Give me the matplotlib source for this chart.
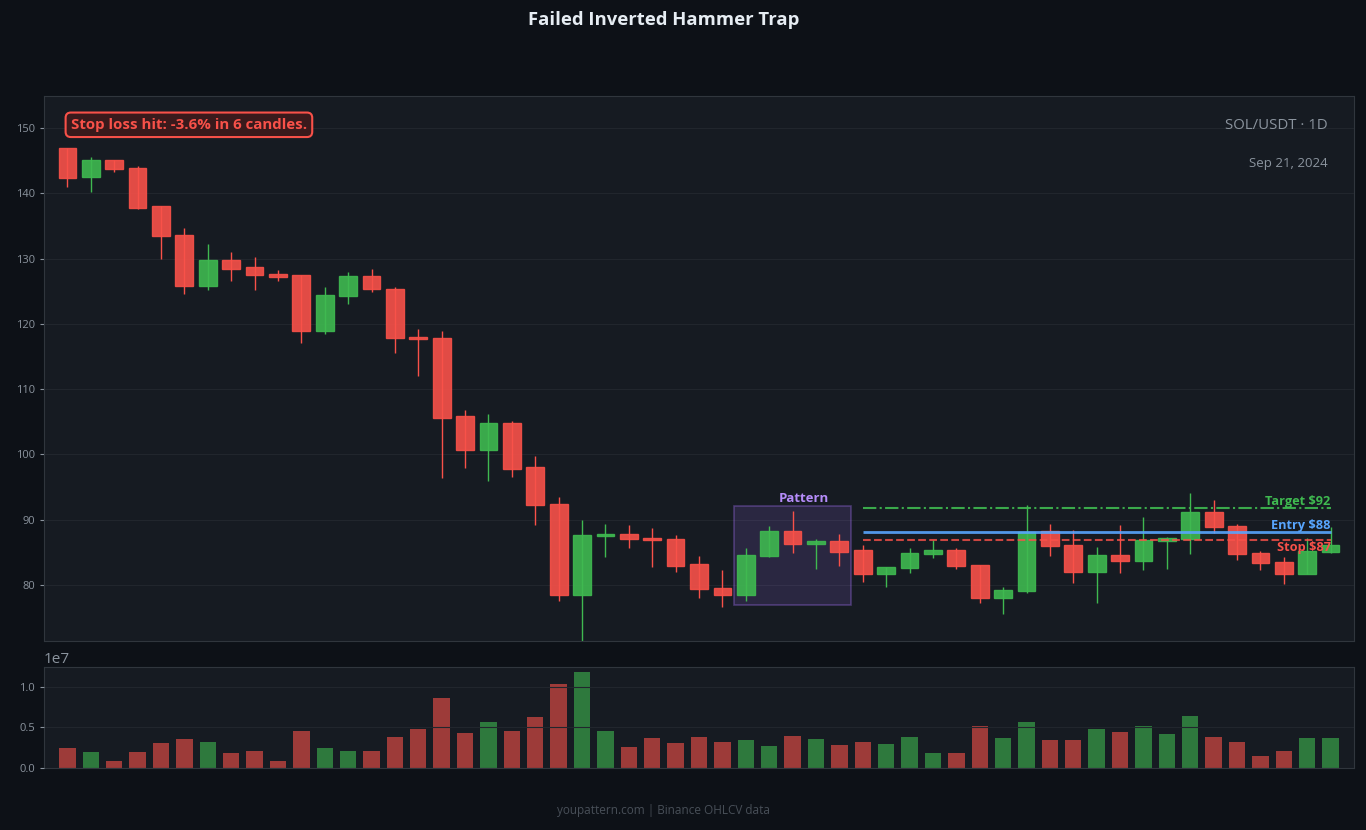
import matplotlib
matplotlib.use('Agg')
import matplotlib.pyplot as plt
from matplotlib.patches import Rectangle
import numpy as np

plt.rcParams['font.family'] = ['Open Sans', 'DejaVu Sans']

# SOL/USDT daily candles
opens = [146.9, 142.45, 145.05, 143.8, 138.0, 133.6, 125.75, 129.7, 128.7, 127.6,
         127.4, 118.9, 124.2, 127.3, 125.4, 117.9, 117.8, 105.8, 100.7, 104.75,
         98.05, 92.35, 78.4, 87.45, 87.8, 87.15, 87.0, 83.2, 79.5, 78.4,
         84.35, 88.25, 86.2, 86.7, 85.3, 81.65, 82.6, 84.7, 85.3, 83.0,
         77.95, 79.05, 88.2, 86.1, 81.95, 84.55, 83.65, 86.75, 87.0, 91.15,
         89.0, 84.9, 83.5, 81.65, 85.0]
highs = [147.0, 145.6, 145.1, 144.1, 138.1, 134.7, 132.2, 131.0, 130.2, 128.25,
         127.5, 125.6, 127.9, 128.4, 125.6, 119.2, 118.9, 106.8, 106.2, 105.1,
         99.8, 93.4, 90.0, 89.3, 89.2, 88.75, 87.7, 84.45, 82.3, 85.6,
         89.0, 91.35, 87.05, 87.8, 86.15, 82.75, 85.7, 86.9, 85.7, 83.1,
         79.7, 92.25, 89.4, 88.45, 85.8, 89.1, 90.45, 87.4, 94.1, 93.0,
         89.4, 85.2, 84.3, 87.2, 88.9]
lows = [140.9, 140.2, 143.3, 137.6, 129.9, 124.6, 125.2, 126.6, 125.2, 126.6,
        117.1, 118.5, 123.1, 124.8, 115.45, 112.0, 96.4, 97.9, 95.95, 96.5,
        89.2, 77.6, 71.0, 84.2, 85.7, 82.8, 81.9, 78.0, 76.65, 77.55,
        84.2, 84.9, 82.45, 82.95, 80.5, 79.6, 81.75, 84.05, 82.5, 77.15,
        75.55, 78.7, 84.35, 80.35, 77.15, 81.75, 82.35, 82.5, 84.8, 87.9,
        83.75, 82.35, 80.2, 81.6, 84.9]
closes = [142.4, 145.05, 143.7, 137.8, 133.4, 125.75, 129.7, 128.45, 127.4, 127.2,
          118.9, 124.4, 127.3, 125.3, 117.8, 117.6, 105.6, 100.7, 104.75, 97.8,
          92.2, 78.4, 87.6, 87.75, 87.0, 86.85, 82.9, 79.3, 78.4, 84.55,
          88.25, 86.2, 86.7, 85.1, 81.6, 82.7, 84.9, 85.3, 82.9, 77.95,
          79.2, 88.1, 85.95, 81.95, 84.55, 83.65, 86.85, 87.15, 91.15, 88.8,
          84.7, 83.35, 81.65, 85.15, 86.1]
volumes = [0.243, 0.193, 0.082, 0.193, 0.305, 0.354, 0.317, 0.181, 0.206, 0.082,
           0.453, 0.243, 0.206, 0.206, 0.379, 0.477, 0.860, 0.428, 0.564, 0.453,
           0.626, 1.033, 1.181, 0.453, 0.255, 0.366, 0.305, 0.379, 0.317, 0.342,
           0.267, 0.391, 0.354, 0.280, 0.317, 0.292, 0.379, 0.181, 0.181, 0.514,
           0.366, 0.564, 0.342, 0.342, 0.477, 0.440, 0.514, 0.416, 0.638, 0.379,
           0.317, 0.144, 0.206, 0.366, 0.366]
volumes = [v * 1e7 for v in volumes]

pattern_start, pattern_end = 29, 33
trade_start = 34
entry_price = 88.07
stop_price = 86.9
target_price = 91.8

BG = '#0d1117'
PANEL = '#161b22'
GRID = '#21262d'
TXT = '#8b949e'
UP = '#3fb950'
DOWN = '#f85149'
BLUE = '#58a6ff'
PURPLE = '#a371f7'

fig = plt.figure(figsize=(13.66, 8.3), dpi=100, facecolor=BG)
ax = fig.add_axes([44 / 1366, 189 / 830, 1310 / 1366, 545 / 830])
axv = fig.add_axes([44 / 1366, 62 / 830, 1310 / 1366, 101 / 830])

for a in (ax, axv):
    a.set_facecolor(PANEL)
    for s in a.spines.values():
        s.set_color('#30363d')
        s.set_linewidth(0.8)
    a.tick_params(colors=TXT, labelsize=8, length=3)
    a.grid(True, axis='y', color=GRID, linewidth=0.8)
    a.set_xticks([])
ax.set_axisbelow(True)
axv.set_axisbelow(False)

n = len(opens)
x = np.arange(n)
w = 0.76
for i in range(n):
    up = closes[i] >= opens[i]
    c = UP if up else DOWN
    ax.vlines(x[i], lows[i], highs[i], color=c, linewidth=1.0, zorder=2)
    lo = min(opens[i], closes[i])
    h = max(abs(closes[i] - opens[i]), 0.25)
    ax.add_patch(Rectangle((x[i] - w / 2, lo), w, h, facecolor=c, edgecolor=c,
                           alpha=0.9, linewidth=1.0, zorder=3))

ax.set_xlim(-1, n)
ax.set_ylim(71.4, 154.9)

# pattern box
plo = min(lows[pattern_start:pattern_end + 1]) - 0.65
phi = max(highs[pattern_start:pattern_end + 1]) + 0.8
ax.add_patch(Rectangle((pattern_start - 0.5, plo), pattern_end - pattern_start + 1, phi - plo,
                       facecolor=PURPLE, alpha=0.15, edgecolor='none', zorder=1))
ax.add_patch(Rectangle((pattern_start - 0.5, plo), pattern_end - pattern_start + 1, phi - plo,
                       facecolor='none', edgecolor=PURPLE, alpha=0.35, linewidth=1.2, zorder=1))
ax.text((pattern_start + pattern_end) / 2 + 0.5, phi + 0.15, 'Pattern', color='#b58cf9',
        fontsize=9.5, fontweight='bold', ha='center', va='bottom')

# trade levels
ax.hlines(target_price, trade_start, n - 1, color=UP, linestyle='-.', linewidth=1.5, alpha=0.9, zorder=4)
ax.hlines(entry_price, trade_start, n - 1, color=BLUE, linewidth=2, alpha=0.9, zorder=4)
ax.hlines(stop_price, trade_start, n - 1, color=DOWN, linestyle='--', linewidth=1.5, alpha=0.8, zorder=4)
ax.text(n - 1, target_price + 0.05, 'Target $92', color=UP, fontsize=9.2, fontweight='bold',
        ha='right', va='bottom', zorder=5)
ax.text(n - 1, entry_price + 0.1, 'Entry $88', color=BLUE, fontsize=9.2, fontweight='bold',
        ha='right', va='bottom', zorder=5)
ax.text(n - 1, stop_price - 0.25, 'Stop $87', color=DOWN, fontsize=9.2, fontweight='bold',
        ha='right', va='top', zorder=5)

ax.text(0.0205, 0.960, 'Stop loss hit: -3.6% in 6 candles.', transform=ax.transAxes,
        color=DOWN, fontsize=10.8, fontweight='bold', ha='left', va='top',
        bbox=dict(boxstyle='round,pad=0.35', facecolor='#3a1a1c', edgecolor=DOWN, linewidth=1.5))
ax.text(0.98, 0.945, 'SOL/USDT \u00b7 1D', transform=ax.transAxes, color=TXT, fontsize=10.8,
        ha='right', va='center')
ax.text(0.98, 0.877, 'Sep 21, 2024', transform=ax.transAxes, color=TXT, fontsize=9.5,
        ha='right', va='center')

# volume
vcol = [UP if closes[i] >= opens[i] else DOWN for i in range(n)]
axv.bar(x, volumes, width=0.7, color=vcol, alpha=0.6)
axv.set_xlim(-1, n)
axv.set_ylim(0, max(volumes) * 1.055)
axv.set_yticks([0, 0.5e7, 1.0e7])
axv.yaxis.get_offset_text().set_color(TXT)
axv.yaxis.get_offset_text().set_fontsize(11)

fig.text(0.4855, 1 - 20 / 830, 'Failed Inverted Hammer Trap', color='#e6edf3', fontsize=13.3,
         fontweight='bold', ha='center', va='center')
fig.text(0.4857, 1 - 810 / 830, 'youpattern.com | Binance OHLCV data', color='#484f58',
         fontsize=8.5, ha='center', va='center')

fig.savefig('out.png', dpi=100, facecolor=BG)
